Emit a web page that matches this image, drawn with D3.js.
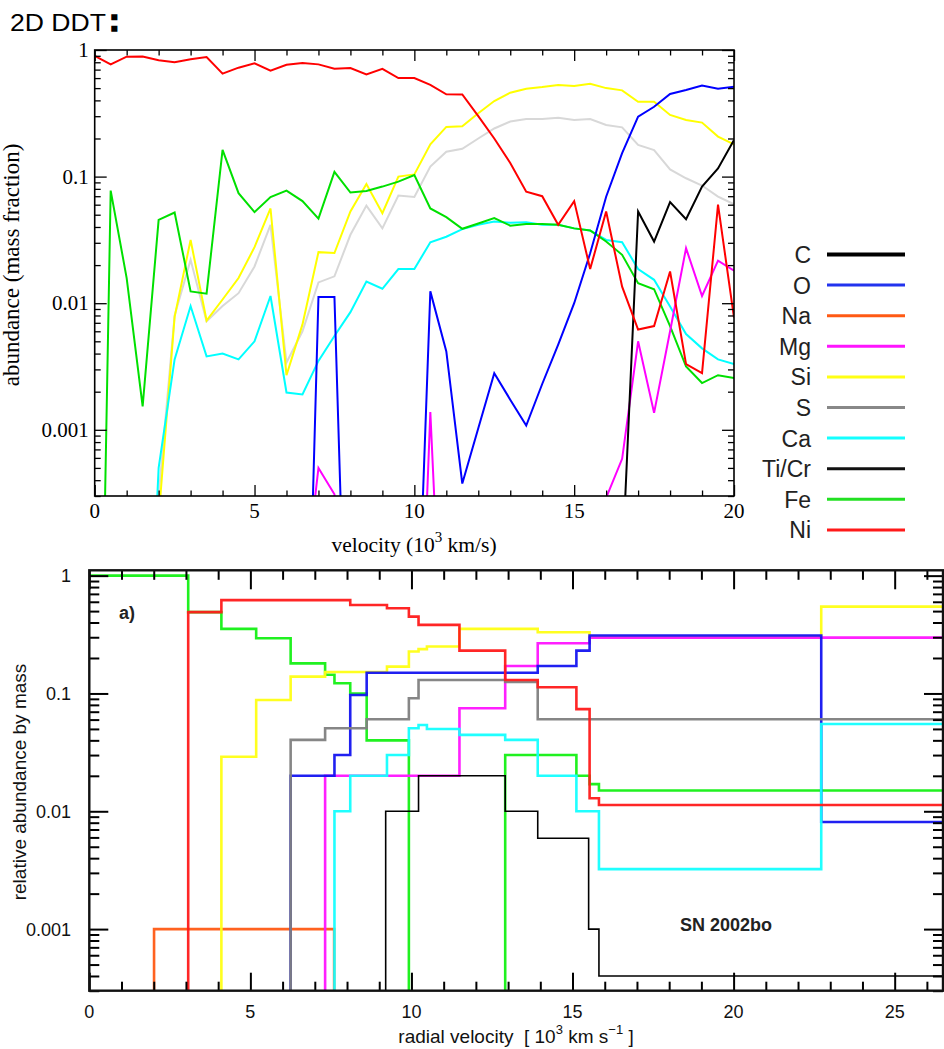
<!DOCTYPE html>
<html>
<head>
<meta charset="utf-8">
<script src="https://cdn.jsdelivr.net/npm/d3@7"></script>
<style>
  body { margin: 0; background: #fff; }
  svg { display: block; }
  text { white-space: pre; }
</style>
</head>
<body>
<svg id="chart" width="944" height="1049"></svg>
<script>
// ---------------------------------------------------------------
// Upper panel: 2D delayed-detonation model, abundance vs velocity
// (velocity in 10^3 km/s, sampled every 500 km/s)
// ---------------------------------------------------------------
const ddtVelocity = [0,0.5,1,1.5,2,2.5,3,3.5,4,4.5,5,5.5,6,6.5,7,7.5,8,8.5,9,9.5,10,
                     10.5,11,11.5,12,12.5,13,13.5,14,14.5,15,15.5,16,16.5,17,17.5,18,18.5,19,19.5,20];

const ddtNi = [0.90,0.77,0.885,0.89,0.83,0.80,0.845,0.88,0.65,0.725,0.785,0.687,0.765,0.79,0.77,0.71,
               0.72,0.64,0.71,0.60,0.60,0.53,0.447,0.445,0.30,0.20,0.128,0.076,0.070,0.0416,0.064,
               0.0186,0.053,0.0135,0.0062,0.0066,0.0178,0.0033,0.0028,0.060,0.0077];
const ddtSi = [1e-6,1e-6,1e-6,1e-6,0.0002,0.0078,0.0316,0.0073,0.0107,0.0158,0.0277,0.056,0.0027,0.0068,
               0.0253,0.0249,0.053,0.0875,0.0514,0.10,0.104,0.18,0.247,0.25,0.317,0.395,0.46,0.495,0.51,
               0.53,0.52,0.54,0.50,0.48,0.39,0.39,0.307,0.28,0.267,0.207,0.18];
const ddtS  = [1e-6,1e-6,1e-6,1e-6,0.0003,0.008,0.022,0.0072,0.0095,0.012,0.0195,0.0416,0.0034,0.006,
               0.0146,0.0163,0.0347,0.059,0.039,0.0708,0.069,0.12,0.157,0.166,0.20,0.24,0.272,0.285,0.285,
               0.292,0.28,0.285,0.256,0.245,0.178,0.162,0.114,0.097,0.085,0.0695,0.0605];
const ddtCa = [1e-6,1e-6,1e-6,1e-6,0.0005,0.0036,0.0095,0.0038,0.0040,0.0036,0.005,0.0114,0.00197,0.0019,
               0.0035,0.0055,0.0085,0.0148,0.013,0.0186,0.0186,0.0303,0.0335,0.0385,0.0416,0.0442,0.0432,
               0.0435,0.0416,0.0416,0.039,0.0375,0.0316,0.0303,0.0186,0.0153,0.0094,0.0057,0.0044,0.0036,0.0033];
const ddtFe = [1e-8,0.0775,0.0158,0.00153,0.0455,0.052,0.0124,0.0119,0.1625,0.074,0.0524,0.069,0.0776,0.064,
               0.0466,0.109,0.0748,0.077,0.0834,0.0913,0.103,0.056,0.0478,0.0387,0.0426,0.047,0.041,0.0423,
               0.0422,0.0416,0.039,0.0375,0.0307,0.0241,0.0144,0.0129,0.0066,0.00316,0.00234,0.0027,0.00256];
const ddtO  = [1e-7,1e-7,1e-7,1e-7,1e-7,1e-7,1e-7,1e-7,1e-7,1e-7,1e-7,1e-7,1e-7,3e-7,0.0112,0.0112,8e-7,
               1e-7,1e-7,1e-7,4e-6,0.0124,0.00416,0.000376,0.00103,0.0028,0.00173,0.00108,0.0023,0.0047,
               0.010,0.0248,0.0694,0.153,0.298,0.356,0.45,0.483,0.523,0.495,0.513];
const ddtMg = [1e-7,1e-7,1e-7,1e-7,1e-7,1e-7,1e-7,1e-7,1e-7,1e-7,1e-7,1e-7,1e-7,4e-5,0.0005,0.00031,1e-6,
               1e-7,1e-7,1e-7,7e-7,0.00138,2.5e-6,1e-7,1e-7,1e-7,1e-7,1e-7,1e-7,1e-7,1e-7,1e-7,
               0.00029,0.00059,0.005,0.00136,0.006,0.0272,0.0114,0.0217,0.0181];
const ddtC  = [1e-7,1e-7,1e-7,1e-7,1e-7,1e-7,1e-7,1e-7,1e-7,1e-7,1e-7,1e-7,1e-7,1e-7,1e-7,1e-7,1e-7,
               1e-7,1e-7,1e-7,1e-7,1e-7,1e-7,1e-7,1e-7,1e-7,1e-7,1e-7,1e-7,1e-7,1e-7,1e-7,1e-7,
               8.3e-5,0.053,0.0307,0.0628,0.0461,0.0834,0.116,0.195];

const ddtXTicks = [0, 5, 10, 15, 20];
const ddtYTicks = [0.001, 0.01, 0.1, 1];
const ddtYTickLabels = ["0.001", "0.01", "0.1", "1"];

// ---------------------------------------------------------------
// Lower panel: SN 2002bo stratification, [shell inner velocity, abundance]
// ---------------------------------------------------------------
const sbNa   = [[0,1e-6],[2.01,0.001],[7.6,1e-6]];
const sbFe   = [[0,1.0],[3.07,0.49],[4.1,0.353],[5.18,0.294],[6.25,0.18],[7.32,0.144],[7.61,0.122],
                [8.10,0.10],[8.61,0.040],[9.92,1e-6],[12.91,0.030],[15.12,0.020],[15.53,0.017],[15.82,0.015]];
const sbSi   = [[0,1e-6],[4.1,0.029],[5.18,0.088],[6.25,0.139],[7.32,0.152],[9.24,0.169],[9.92,0.227],
                [10.22,0.238],[10.48,0.25],[11.49,0.353],[13.92,0.331],[15.53,0.302],[22.72,0.546]];
const sbMg   = [[0,1e-6],[7.32,0.020],[11.49,0.075],[12.91,0.171],[13.92,0.267],[15.53,0.298]];
const sbO    = [[0,1e-6],[6.25,0.020],[7.61,0.030],[8.10,0.097],[8.61,0.15],[13.92,0.171],[15.12,0.231],
                [15.53,0.31],[22.72,0.0081]];
const sbS    = [[0,1e-6],[6.25,0.0404],[7.32,0.0507],[8.61,0.0604],[9.92,0.091],[10.22,0.130],
                [12.91,0.125],[13.92,0.0604]];
const sbCa   = [[0,1e-6],[7.61,0.010],[8.10,0.020],[9.24,0.030],[9.92,0.0507],[10.22,0.054],[10.48,0.050],
                [11.49,0.0445],[12.91,0.0404],[13.92,0.020],[15.12,0.010],[15.82,0.00323],[22.72,0.055]];
const sbNi   = [[0,1e-6],[3.07,0.49],[4.1,0.62],[8.10,0.564],[9.24,0.529],[9.92,0.449],[10.22,0.382],
                [11.49,0.231],[12.91,0.130],[13.92,0.113],[15.12,0.0736],[15.53,0.0129],[15.82,0.0113]];
const sbTiCr = [[0,1e-6],[9.2,0.010],[10.22,0.020],[12.91,0.010],[13.92,0.0059],[15.5,0.001],[15.82,0.0004]];

const sbXTicks = [0, 5, 10, 15, 20, 25];
const sbYTicks = [0.001, 0.01, 0.1, 1];
const sbYTickLabels = ["0.001", "0.01", "0.1", "1"];

const legendNames = ["C", "O", "Na", "Mg", "Si", "S", "Ca", "Ti/Cr", "Fe", "Ni"];

// ---------------------------------------------------------------
// Styling
// ---------------------------------------------------------------
const topColors = { Ni: "#ff0000", Si: "#ffff00", S: "#d8d8d8", Ca: "#00ffff", Fe: "#00e000",
                    O: "#0000ff", Mg: "#ff00ff", C: "#000000" };
const sbColors  = { Na: "#ff5a14", Fe: "#14f014", Si: "#ffff14", Mg: "#ff14ff", O: "#1414f0",
                    S: "#808080", Ca: "#14ffff", Ni: "#ff1a1a", TiCr: "#000000" };
const legendColors = { "C": "#000", "O": "#2233ee", "Na": "#ff5a14", "Mg": "#ff14ff", "Si": "#ffff14",
                       "S": "#888888", "Ca": "#14ffff", "Ti/Cr": "#111", "Fe": "#22e022", "Ni": "#ff1a1a" };

const svg = d3.select("#chart");
const SERIF = "'Liberation Serif', 'Times New Roman', serif";
const SANS  = "'Liberation Sans', Arial, Helvetica, sans-serif";

function minorLogValues(lo, hi) {
  const out = [];
  for (let e = -4; e <= 0; e++) {
    for (let m = 2; m <= 9; m++) {
      const v = m * Math.pow(10, e);
      if (v >= lo * 0.999 && v <= hi) out.push(v);
    }
  }
  return out;
}

function tickAxis(g, axisFn, scale, values, len, width) {
  g.call(axisFn(scale).tickValues(values).tickSizeInner(-len).tickSizeOuter(0).tickFormat(""));
  g.select(".domain").remove();
  g.selectAll(".tick line").attr("stroke", "#000").attr("stroke-width", width);
}

// ================= upper panel =================
const P1 = { left: 94.7, right: 734, top: 50, bottom: 496 };
const x1 = d3.scaleLinear().domain([0, 20]).range([P1.left, P1.right]);
const y1 = d3.scaleLog().domain([3e-4, 1]).range([P1.bottom, P1.top]);

svg.append("clipPath").attr("id", "clip1").append("rect")
  .attr("x", P1.left).attr("y", P1.top).attr("width", P1.right - P1.left).attr("height", P1.bottom - P1.top);

const topSeries = [
  { key: "S", values: ddtS }, { key: "Si", values: ddtSi }, { key: "Ca", values: ddtCa },
  { key: "Fe", values: ddtFe }, { key: "O", values: ddtO }, { key: "Mg", values: ddtMg },
  { key: "C", values: ddtC }, { key: "Ni", values: ddtNi }
];
const line1 = d3.line().x((d, i) => x1(ddtVelocity[i])).y(d => y1(d));
const g1 = svg.append("g").attr("clip-path", "url(#clip1)");
g1.selectAll("path").data(topSeries).join("path")
  .attr("d", d => line1(d.values))
  .attr("fill", "none").attr("stroke", d => topColors[d.key])
  .attr("stroke-width", 2).attr("stroke-linejoin", "miter");

// ticks (inward on all four sides)
const x1Minor = d3.range(0, 21).filter(v => v % 5 !== 0);
const y1Minor = minorLogValues(3e-4, 1);
tickAxis(svg.append("g").attr("transform", `translate(0,${P1.bottom})`), d3.axisBottom, x1, x1Minor, 5.5, 1.3);
tickAxis(svg.append("g").attr("transform", `translate(0,${P1.bottom})`), d3.axisBottom, x1, ddtXTicks, 11, 1.3);
tickAxis(svg.append("g").attr("transform", `translate(0,${P1.top})`), d3.axisTop, x1, x1Minor, 5.5, 1.3);
tickAxis(svg.append("g").attr("transform", `translate(0,${P1.top})`), d3.axisTop, x1, ddtXTicks, 11, 1.3);
tickAxis(svg.append("g").attr("transform", `translate(${P1.left},0)`), d3.axisLeft, y1, y1Minor, 6, 1.3);
tickAxis(svg.append("g").attr("transform", `translate(${P1.left},0)`), d3.axisLeft, y1, ddtYTicks, 12, 1.3);
tickAxis(svg.append("g").attr("transform", `translate(${P1.right},0)`), d3.axisRight, y1, y1Minor, 6, 1.3);
tickAxis(svg.append("g").attr("transform", `translate(${P1.right},0)`), d3.axisRight, y1, ddtYTicks, 12, 1.3);

// tick labels
svg.append("g").selectAll("text").data(ddtXTicks).join("text")
  .attr("x", d => x1(d)).attr("y", 518).attr("text-anchor", "middle")
  .attr("font-family", SERIF).attr("font-size", 21).attr("fill", "#000").text(d => d);
svg.append("g").selectAll("text").data(ddtYTicks).join("text")
  .attr("x", P1.left - 6).attr("y", d => y1(d) + 7).attr("text-anchor", "end")
  .attr("font-family", SERIF).attr("font-size", 21).attr("fill", "#000")
  .text((d, i) => ddtYTickLabels[i]);

svg.append("rect").attr("x", P1.left).attr("y", P1.top)
  .attr("width", P1.right - P1.left).attr("height", P1.bottom - P1.top)
  .attr("fill", "none").attr("stroke", "#000").attr("stroke-width", 1.6);

// axis titles
const xt1 = svg.append("text").attr("x", 414).attr("y", 552).attr("text-anchor", "middle")
  .attr("font-family", SERIF).attr("font-size", 21.5).attr("fill", "#000");
xt1.append("tspan").text("velocity (10");
xt1.append("tspan").attr("font-size", 15).attr("dy", -10).text("3");
xt1.append("tspan").attr("dy", 10).text(" km/s)");

svg.append("text").attr("transform", "translate(19,265) rotate(-90)").attr("text-anchor", "middle")
  .attr("font-family", SERIF).attr("font-size", 23).attr("fill", "#000")
  .text("abundance (mass fraction)");

// heading
svg.append("text").attr("x", 10).attr("y", 31)
  .attr("font-family", SANS).attr("font-size", 24).attr("fill", "#000")
  .attr("textLength", 96).attr("lengthAdjust", "spacingAndGlyphs").text("2D DDT");
svg.append("text").attr("x", 109).attr("y", 31)
  .attr("font-family", SANS).attr("font-size", 32).attr("font-weight", "bold")
  .attr("fill", "#000").attr("stroke", "#000").attr("stroke-width", 1.6).text(":");

// legend
const lg = svg.append("g").selectAll("g").data(legendNames).join("g")
  .attr("transform", (d, i) => `translate(0,${254.5 + i * 30.6})`);
lg.append("text").attr("x", 811).attr("y", 8.5).attr("text-anchor", "end")
  .attr("font-family", SANS).attr("font-size", 23).attr("fill", "#222").text(d => d);
lg.append("line").attr("x1", 827).attr("x2", 905).attr("y1", 0).attr("y2", 0)
  .attr("stroke", d => legendColors[d]).attr("stroke-width", d => d === "C" ? 4 : 3);

// ================= lower panel =================
const P2 = { left: 89.3, right: 943, top: 570.3, bottom: 990.7 };
const xMax2 = 26.5;
const x2 = d3.scaleLinear().domain([0, xMax2]).range([P2.left, P2.right]);
const y2 = d3.scaleLog().domain([3e-4, 1.11]).range([P2.bottom, P2.top]);

svg.append("clipPath").attr("id", "clip2").append("rect")
  .attr("x", P2.left).attr("y", P2.top).attr("width", P2.right - P2.left).attr("height", P2.bottom - P2.top);

const sbSeries = [
  { key: "Na", steps: sbNa }, { key: "Fe", steps: sbFe }, { key: "Si", steps: sbSi },
  { key: "Mg", steps: sbMg }, { key: "O", steps: sbO }, { key: "S", steps: sbS },
  { key: "Ca", steps: sbCa }, { key: "Ni", steps: sbNi }, { key: "TiCr", steps: sbTiCr }
];
const line2 = d3.line().curve(d3.curveStepAfter).x(d => x2(d[0])).y(d => y2(d[1]));
const g2 = svg.append("g").attr("clip-path", "url(#clip2)");
g2.selectAll("path").data(sbSeries).join("path")
  .attr("d", d => {
    const pts = d.steps.slice();
    pts.push([xMax2, d.steps[d.steps.length - 1][1]]);
    return line2(pts);
  })
  .attr("fill", "none").attr("stroke", d => sbColors[d.key])
  .attr("stroke-width", d => d.key === "TiCr" ? 1.6 : 2.6)
  .attr("stroke-opacity", d => d.key === "TiCr" ? 1 : 0.95);

const x2Minor = d3.range(0, 27).filter(v => v % 5 !== 0);
const y2Minor = minorLogValues(3e-4, 1.11);
tickAxis(svg.append("g").attr("transform", `translate(0,${P2.bottom})`), d3.axisBottom, x2, x2Minor, 9, 2);
tickAxis(svg.append("g").attr("transform", `translate(0,${P2.bottom})`), d3.axisBottom, x2, sbXTicks, 18, 2);
tickAxis(svg.append("g").attr("transform", `translate(0,${P2.top})`), d3.axisTop, x2, x2Minor, 9.5, 2);
tickAxis(svg.append("g").attr("transform", `translate(0,${P2.top})`), d3.axisTop, x2, sbXTicks, 19, 2);
tickAxis(svg.append("g").attr("transform", `translate(${P2.left},0)`), d3.axisLeft, y2, y2Minor, 10, 2);
tickAxis(svg.append("g").attr("transform", `translate(${P2.left},0)`), d3.axisLeft, y2, sbYTicks, 19, 2);
tickAxis(svg.append("g").attr("transform", `translate(${P2.right},0)`), d3.axisRight, y2, y2Minor, 10, 2);
tickAxis(svg.append("g").attr("transform", `translate(${P2.right},0)`), d3.axisRight, y2, sbYTicks, 19, 2);

svg.append("g").selectAll("text").data(sbXTicks).join("text")
  .attr("x", d => x2(d)).attr("y", 1018).attr("text-anchor", "middle")
  .attr("font-family", SANS).attr("font-size", 18).attr("fill", "#111").text(d => d);
svg.append("g").selectAll("text").data(sbYTicks).join("text")
  .attr("x", 71).attr("y", d => y2(d) + 6.5).attr("text-anchor", "end")
  .attr("font-family", SANS).attr("font-size", 18).attr("fill", "#111")
  .text((d, i) => sbYTickLabels[i]);

svg.append("rect").attr("x", P2.left).attr("y", P2.top)
  .attr("width", P2.right - P2.left).attr("height", P2.bottom - P2.top)
  .attr("fill", "none").attr("stroke", "#111").attr("stroke-width", 2.4);

const xt2 = svg.append("text").attr("x", 516).attr("y", 1043).attr("text-anchor", "middle")
  .attr("font-family", SANS).attr("font-size", 19).attr("fill", "#111");
xt2.append("tspan").text("radial velocity  [ 10");
xt2.append("tspan").attr("font-size", 13).attr("dy", -9).text("3");
xt2.append("tspan").attr("dy", 9).text(" km s");
xt2.append("tspan").attr("font-size", 13).attr("dy", -9).text("\u22121");
xt2.append("tspan").attr("dy", 9).text(" ]");

svg.append("text").attr("transform", "translate(26,782) rotate(-90)").attr("text-anchor", "middle")
  .attr("font-family", SANS).attr("font-size", 19).attr("fill", "#111")
  .text("relative abundance by mass");

svg.append("text").attr("x", 119).attr("y", 619)
  .attr("font-family", SANS).attr("font-size", 18).attr("font-weight", "bold").attr("fill", "#222").text("a)");
svg.append("text").attr("x", 680).attr("y", 930.5)
  .attr("font-family", SANS).attr("font-size", 18).attr("font-weight", "bold").attr("fill", "#222").text("SN 2002bo");
</script>
</body>
</html>
